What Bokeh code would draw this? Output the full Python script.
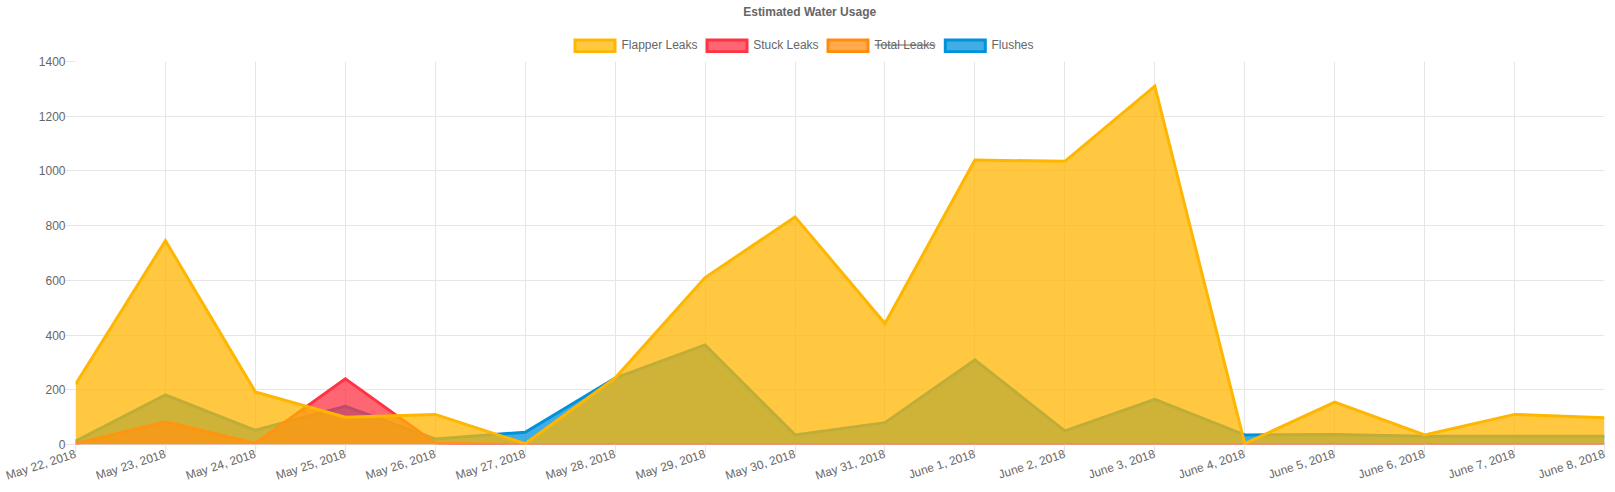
import math
from bokeh.embed import file_html
from bokeh.layouts import column
from bokeh.resources import INLINE
from bokeh.plotting import figure
from bokeh.models import (ColumnDataSource, FixedTicker, Label, Range1d)

dates = ["May 22, 2018", "May 23, 2018", "May 24, 2018", "May 25, 2018", "May 26, 2018",
         "May 27, 2018", "May 28, 2018", "May 29, 2018", "May 30, 2018", "May 31, 2018",
         "June 1, 2018", "June 2, 2018", "June 3, 2018", "June 4, 2018", "June 5, 2018",
         "June 6, 2018", "June 7, 2018", "June 8, 2018"]
flapper_leaks = [220, 745, 192, 100, 110, 3, 243, 610, 832, 442, 1040, 1035, 1310, 3, 155, 35, 110, 98]
stuck_leaks = [3, 83, 5, 240, 5, 0, 0, 0, 0, 0, 0, 0, 0, 0, 0, 0, 0, 0]
flushes = [12, 181, 52, 140, 20, 45, 243, 364, 35, 80, 309, 50, 165, 35, 37, 30, 30, 30]
y_ticks = [0, 200, 400, 600, 800, 1000, 1200, 1400]
title_text = "Estimated Water Usage"
legend_names = ["Flapper Leaks", "Stuck Leaks", "Total Leaks", "Flushes"]

YELLOW, RED, ORANGE, BLUE = "#FFB600", "#FF3344", "#FF8C0F", "#0092DB"
GRID = "#e6e6e6"
TEXT = "#666666"
FONT = "Liberation Sans"
HEADER_H = 53
LEFT, RIGHT = 75, 1604

# Header strip: title and legend, laid out in page pixels (its frame lines up with the plot's).
head = figure(width=1615, height=HEADER_H, output_backend="svg", toolbar_location=None,
              x_range=Range1d(LEFT, RIGHT), y_range=Range1d(HEADER_H, 0),
              min_border=0, x_axis_type=None, y_axis_type=None)
head.outline_line_color = None
head.grid.visible = False
head.add_layout(Label(x=742.7, y=11.7, text=title_text, text_color=TEXT, text_font=FONT,
                      text_font_size="12px", text_font_style="bold",
                      text_align="left", text_baseline="middle"))
for name, color, box_left, text_left in zip(legend_names, (YELLOW, RED, ORANGE, BLUE),
                                            (574.5, 706.5, 827.5, 944.8), (621, 752.7, 874, 991)):
    head.quad(left=[box_left], right=[box_left + 40], top=[39.5], bottom=[51.2],
              fill_color=color, fill_alpha=0.75, line_color=color, line_width=3, line_join="miter")
    head.add_layout(Label(x=text_left, y=44.7, text=name, text_color=TEXT, text_font=FONT,
                          text_font_size="12px", text_align="left", text_baseline="middle"))
head.quad(left=[874], right=[935], top=[44], bottom=[45], fill_color=TEXT, line_color=None)

idx = list(range(len(dates)))
p = figure(width=1615, height=492 - HEADER_H, output_backend="svg", toolbar_location=None,
           x_range=Range1d(0, len(dates) - 1), y_range=Range1d(0, 1400),
           min_border_left=LEFT, min_border_right=1615 - RIGHT, min_border_top=61 - HEADER_H, min_border_bottom=48)
p.outline_line_color = None
p.background_fill_color = "white"

for ax, ticks in ((p.xaxis[0], idx), (p.yaxis[0], y_ticks)):
    ax.ticker = FixedTicker(ticks=ticks)
    ax.axis_line_color = None
    ax.major_tick_line_color = GRID
    ax.major_tick_in = 0
    ax.minor_tick_line_color = None
    ax.major_label_text_color = TEXT
    ax.major_label_text_font = FONT
    ax.major_label_text_font_size = "12px"
p.xaxis[0].major_label_overrides = {i: d for i, d in enumerate(dates)}
p.xaxis[0].major_label_orientation = math.radians(18)
p.xaxis[0].major_tick_out = 9
p.xaxis[0].major_label_standoff = 0
p.yaxis[0].major_tick_out = 10
p.yaxis[0].major_label_standoff = 0
p.grid.grid_line_color = GRID
p.grid.grid_line_width = 1

series = [(flushes, BLUE), (stuck_leaks, RED), (flapper_leaks, YELLOW)]
for values, color in series:
    src = ColumnDataSource(dict(x=idx, y=values, base=[0] * len(idx)))
    p.varea(x="x", y1="base", y2="y", source=src, fill_color=color, fill_alpha=0.75)
    p.line(x="x", y="y", source=src, line_color=color, line_width=3, line_join="miter")

open("out.html", "w").write(file_html(column(head, p, spacing=0), INLINE))
